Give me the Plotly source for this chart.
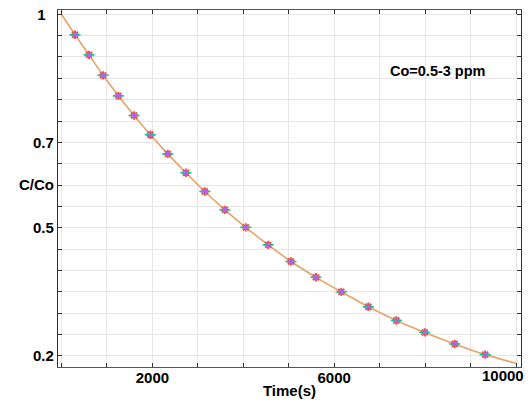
import plotly.graph_objects as go

# Data
time_s = [297, 606, 914, 1251, 1597, 1956, 2339, 2736, 3154, 3595,
          4053, 4548, 5048, 5599, 6156, 6751, 7368, 7991, 8652, 9322]
c_ratio = [0.952, 0.905, 0.857, 0.809, 0.763, 0.718, 0.673, 0.629, 0.585, 0.542,
           0.501, 0.460, 0.421, 0.384, 0.350, 0.315, 0.283, 0.255, 0.228, 0.203]
fit_time = [0] + time_s + [10000]
fit_ratio = [1.0] + c_ratio + [0.183]

x_tickvals = list(range(0, 10001, 1000))
x_ticktext = ["" if v not in (2000, 6000) else str(v) for v in x_tickvals]
y_tickvals = [round(0.2 + 0.05 * i, 2) for i in range(17)]
y_labels = {1.0: "1\u00a0\u00a0", 0.7: "0.7", 0.6: "C/Co", 0.5: "0.5", 0.2: "0.2"}
y_ticktext = [y_labels.get(v, "") for v in y_tickvals]

FONT = "Liberation Sans, Arial, sans-serif"

fig = go.Figure()
fig.add_trace(go.Scatter(x=fit_time, y=fit_ratio, mode="lines",
                         line=dict(color="#E8A266", width=1.6, shape="spline"),
                         showlegend=False, hoverinfo="skip"))
fig.add_trace(go.Scatter(x=time_s, y=c_ratio, mode="markers",
                         marker=dict(symbol="asterisk-open", size=7,
                                     line=dict(color="#F2B035", width=2)),
                         showlegend=False))
fig.add_trace(go.Scatter(x=time_s, y=c_ratio, mode="markers",
                         marker=dict(symbol="line-ew-open", size=8,
                                     line=dict(color="#7C7CF0", width=1.5)),
                         showlegend=False))
fig.add_trace(go.Scatter(x=time_s, y=c_ratio, mode="markers",
                         marker=dict(symbol="x-thin-open", size=4,
                                     line=dict(color="#F030C0", width=2)),
                         showlegend=False))

fig.add_shape(type="rect", xref="paper", yref="paper",
              x0=0.75, x1=0.995, y0=0.70, y1=0.995,
              fillcolor="white", line=dict(width=0), layer="between")

fig.add_annotation(x=0.82, y=0.83, xref="paper", yref="paper",
                   text="<b>Co=0.5-3 ppm</b>", showarrow=False,
                   font=dict(family=FONT, size=14.5, color="black"),
                   xanchor="center", yanchor="middle")
fig.add_annotation(x=10000, y=0, xref="x", yref="paper",
                   text="<b>10000</b>", showarrow=False,
                   font=dict(family=FONT, size=15, color="black"),
                   xanchor="center", yanchor="top", xshift=-13, yshift=2)

fig.update_layout(
    width=531, height=402,
    margin=dict(l=58, r=10, t=10, b=35),
    paper_bgcolor="white", plot_bgcolor="white",
    font=dict(family=FONT, size=15, color="black"),
    xaxis=dict(range=[-77, 10110], tickvals=x_tickvals, ticktext=x_ticktext,
               automargin=False, ticklabelstandoff=-3,
               ticks="inside", ticklen=4, tickcolor="#333", mirror="ticks",
               showline=True, linecolor="#555", linewidth=1.2,
               showgrid=True, gridcolor="#E6E6E6", zeroline=False,
               tickfont=dict(family=FONT, size=15, weight="bold"),
               title=dict(text="<b>Time(s)</b>", standoff=0,
                          font=dict(family=FONT, size=15))),
    yaxis=dict(range=[0.174, 1.01], tickvals=y_tickvals, ticktext=y_ticktext,
               automargin=False,
               ticks="inside", ticklen=4, tickcolor="#333", mirror="ticks",
               showline=True, linecolor="#333", linewidth=1.2,
               showgrid=True, gridcolor="#E6E6E6", zeroline=False,
               tickfont=dict(family=FONT, size=15, weight="bold")),
)

fig.write_html("out.html")
